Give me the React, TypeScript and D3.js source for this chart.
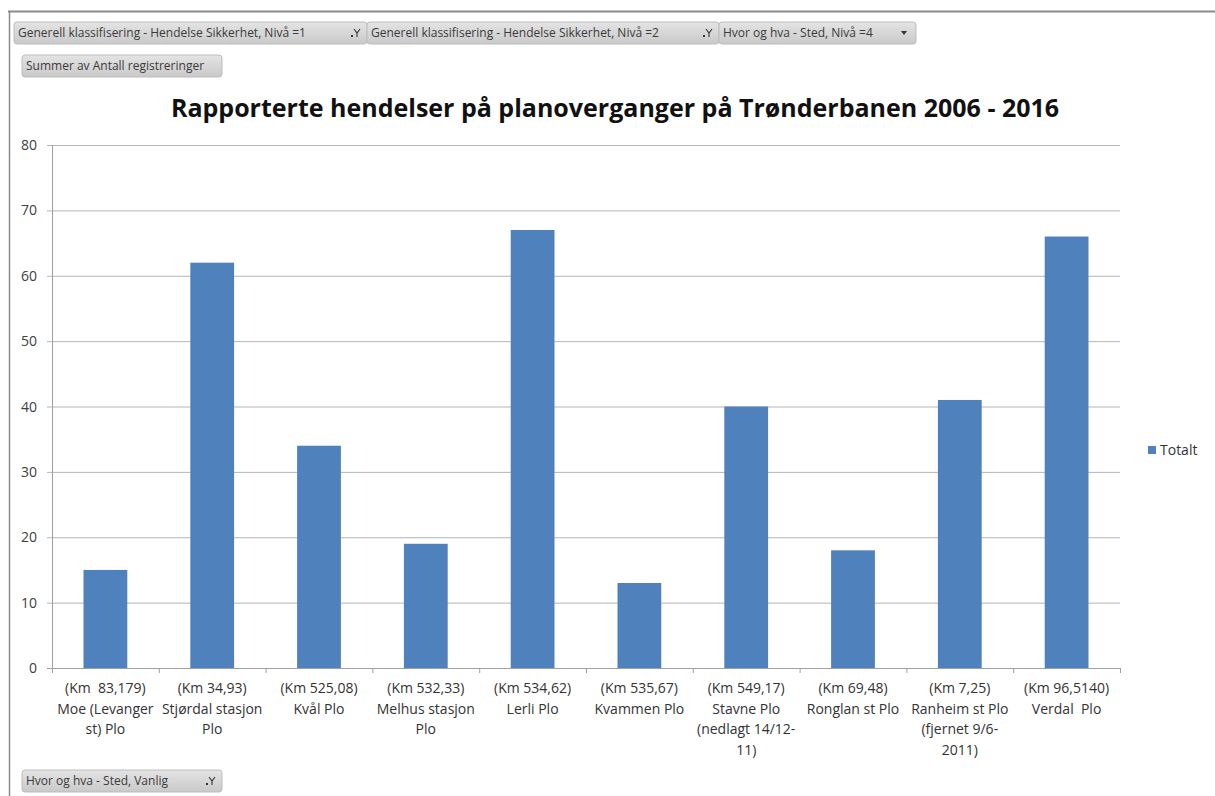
import React from "react";
import * as d3 from "d3";

// values
const categories = [
  ["(Km  83,179)", "Moe (Levanger", "st) Plo"],
  ["(Km 34,93)", "Stjørdal stasjon", "Plo"],
  ["(Km 525,08)", "Kvål Plo"],
  ["(Km 532,33)", "Melhus stasjon", "Plo"],
  ["(Km 534,62)", "Lerli Plo"],
  ["(Km 535,67)", "Kvammen Plo"],
  ["(Km 549,17)", "Stavne Plo", "(nedlagt 14/12-", "11)"],
  ["(Km 69,48)", "Ronglan st Plo"],
  ["(Km 7,25)", "Ranheim st Plo", "(fjernet 9/6-", "2011)"],
  ["(Km 96,5140)", "Verdal  Plo"],
];
const totalt = [15, 62, 34, 19, 67, 13, 40, 18, 41, 66];
const yTicks = [0, 10, 20, 30, 40, 50, 60, 70, 80];

const filterButtons = [
  { label: "Generell klassifisering - Hendelse Sikkerhet, Nivå =1", x: 14, y: 22, w: 353, icon: "filter" },
  { label: "Generell klassifisering - Hendelse Sikkerhet, Nivå =2", x: 367, y: 22, w: 352, icon: "filter" },
  { label: "Hvor og hva - Sted, Nivå =4", x: 719, y: 22, w: 197, icon: "drop" },
  { label: "Summer av Antall registreringer", x: 22, y: 55, w: 200, icon: "" },
  { label: "Hvor og hva - Sted, Vanlig", x: 22, y: 770, w: 200, icon: "filter" },
];

const font = "Open Sans, sans-serif";
const barColor = "#4f81bd";

export default function App() {
  const left = 52, right = 1120, top = 145, bottom = 668;
  const idx = categories.map((_, i) => String(i));
  const x = d3.scaleBand().domain(idx).range([left, right]).paddingInner(0.59).paddingOuter(0.295);
  const y = d3.scaleLinear().domain([0, 80]).range([bottom, top]);
  const step = (right - left) / categories.length;

  return (
    <svg width={1215} height={796} style={{ position: "absolute", left: 0, top: 0, background: "#fff" }}
      fontFamily={font}>
      <defs>
        <linearGradient id="btn" x1="0" y1="0" x2="0" y2="1">
          <stop offset="0" stopColor="#e4e4e4" />
          <stop offset="1" stopColor="#c9c9c9" />
        </linearGradient>
      </defs>
      {/* frame */}
      <line x1={8} x2={1215} y1={11.5} y2={11.5} stroke="#8a8a8a" strokeWidth={2} />
      <line x1={9.5} x2={9.5} y1={11} y2={796} stroke="#8a8a8a" strokeWidth={1.5} />

      {filterButtons.map((b, i) => (
        <g key={i} transform={`translate(${b.x},${b.y})`}>
          <rect width={b.w} height={22} rx={3} fill="url(#btn)" stroke="#bdbdbd" />
          <text x={4} y={15} fontSize={12} fill="#3a3a3a">{b.label}</text>
          {b.icon === "filter" && (
            <g transform={`translate(${b.w - 16},6)`} stroke="#333" fill="none" strokeWidth={1.1}>
              <path d="M3,1 L6,5 L9,1 M6,5 L6,9" />
              <rect x={0} y={7} width={2} height={2} fill="#333" stroke="none" />
            </g>
          )}
          {b.icon === "drop" && <path d={`M${b.w - 15},9 l6,0 l-3,4 z`} fill="#333" />}
        </g>
      ))}

      <text x={615} y={117} textAnchor="middle" fontSize={25} fontWeight="bold" fill="#111">
        Rapporterte hendelser på planoverganger på Trønderbanen 2006 - 2016
      </text>

      {/* grid + y axis */}
      {yTicks.map(t => (
        <g key={t}>
          <line x1={left - 5} x2={right} y1={y(t) + 0.5} y2={y(t) + 0.5} stroke={t === 0 ? "#a0a0a0" : "#b5b5b5"} />
          <text x={37} y={y(t) + 5} textAnchor="end" fontSize={14} fill="#404040">{t}</text>
        </g>
      ))}
      <line x1={left + 0.5} x2={left + 0.5} y1={top} y2={bottom} stroke="#a0a0a0" />
      {d3.range(categories.length + 1).map(i => (
        <line key={i} x1={left + i * step + 0.5} x2={left + i * step + 0.5} y1={bottom} y2={bottom + 5} stroke="#a0a0a0" />
      ))}

      {totalt.map((v, i) => (
        <rect key={i} x={x(String(i))} y={y(v)} width={x.bandwidth()} height={y(0) - y(v)} fill={barColor} />
      ))}

      {categories.map((lines, i) => (
        <text key={i} textAnchor="middle" fontSize={14} fill="#333">
          {lines.map((l, j) => (
            <tspan key={j} x={(x(String(i)) as number) + x.bandwidth() / 2} y={693 + j * 20.5} xmlSpace="preserve">{l}</tspan>
          ))}
        </text>
      ))}

      {/* legend */}
      <rect x={1148} y={446} width={8} height={8} fill={barColor} />
      <text x={1160} y={455} fontSize={14} fill="#333">Totalt</text>
    </svg>
  );
}
